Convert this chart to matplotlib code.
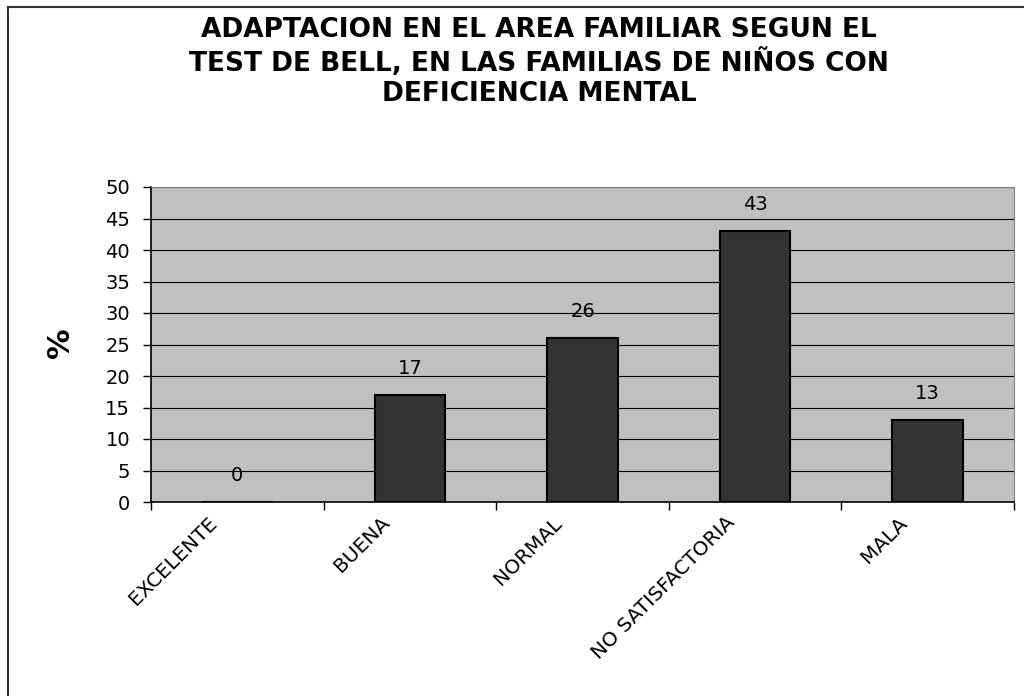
import matplotlib.pyplot as plt
import matplotlib.transforms as mtransforms
from matplotlib.lines import Line2D

categorias = ["EXCELENTE", "BUENA", "NORMAL", "NO SATISFACTORIA", "MALA"]
porcentajes = [0, 17, 26, 43, 13]
titulo = ("ADAPTACION EN EL AREA FAMILIAR SEGUN EL\n"
          "TEST DE BELL, EN LAS FAMILIAS DE NIÑOS CON\n"
          "DEFICIENCIA MENTAL")

plt.rcParams["font.family"] = ["DejaVu Sans"]

fig = plt.figure(figsize=(10.24, 6.96), dpi=100)
ax = fig.add_axes([151 / 1024, 1 - 502 / 696, 863 / 1024, 315 / 696])
ax.set_facecolor("#c0c0c0")

x = list(range(len(categorias)))
bars = ax.bar(x, porcentajes, width=0.41, color="#333333",
              edgecolor="black", linewidth=1.5, zorder=3)

# etiquetas de valores
for xi, v in zip(x, porcentajes):
    ax.annotate(str(v), (xi, v), xytext=(0, 19), textcoords="offset points",
                ha="center", va="center", fontsize=14)

ax.set_xlim(-0.5, len(categorias) - 0.5)
ax.set_ylim(0, 50)
ax.set_yticks(range(0, 51, 5))
ax.yaxis.grid(True, color="black", linewidth=0.8, zorder=1)
ax.set_axisbelow(True)

ax.set_xticks(x)
ax.set_xticks([i - 0.5 for i in range(len(categorias) + 1)], minor=True)
ax.tick_params(axis="x", which="major", length=0, pad=8)
ax.tick_params(axis="x", which="minor", length=6, width=1, direction="out")
ax.tick_params(axis="y", length=6, width=1, direction="out", pad=9,
               labelsize=14)
ax.set_xticklabels(categorias, rotation=45, ha="right",
                   rotation_mode="anchor", fontsize=14.5)
offset = mtransforms.ScaledTranslation(-30 / 100, 0, fig.dpi_scale_trans)
for lab in ax.get_xticklabels():
    lab.set_transform(lab.get_transform() + offset)

for side in ["top", "right"]:
    ax.spines[side].set_color("#808080")
for side in ["left", "bottom"]:
    ax.spines[side].set_color("black")
    ax.spines[side].set_linewidth(1.2)

fig.text(539 / 1024, 1 - 62 / 696, titulo, ha="center", va="center",
         fontsize=19, fontweight="bold", linespacing=1.2)
fig.text(61 / 1024, 1 - 343 / 696, "%", ha="center", va="center",
         rotation=90, fontsize=22, fontweight="bold")

# borde del grafico
fig.add_artist(Line2D([8 / 1024, 8 / 1024], [0, 1 - 7 / 696],
                      color="#333333", linewidth=1.5))
fig.add_artist(Line2D([8 / 1024, 1], [1 - 7 / 696, 1 - 7 / 696],
                      color="#333333", linewidth=1.5))

fig.savefig("out.png", dpi=100)
